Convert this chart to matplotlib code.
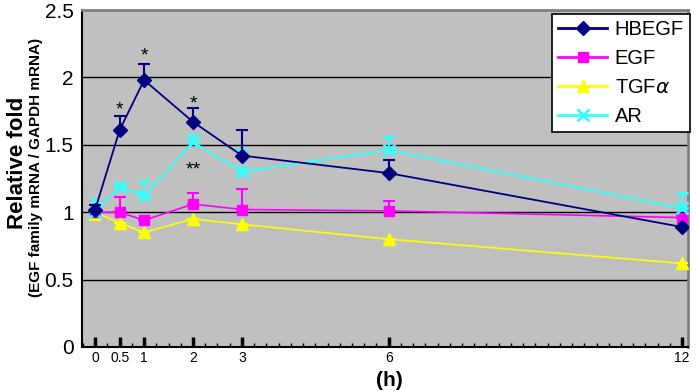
import numpy as np
import matplotlib
matplotlib.use('Agg')
import matplotlib.pyplot as plt
from matplotlib.lines import Line2D
from matplotlib.ticker import MultipleLocator, FixedLocator

plt.rcParams['font.family'] = ['Liberation Sans', 'DejaVu Sans']

hours = [0, 0.5, 1, 2, 3, 6, 12]

hbegf = [1.02, 1.61, 1.98, 1.67, 1.42, 1.29, 0.89]
hbegf_err = [0.03, 0.10, 0.12, 0.10, 0.19, 0.10, 0.0]

egf = [1.0, 1.0, 0.94, 1.06, 1.02, 1.01, 0.96]
egf_err = [0.02, 0.11, 0.01, 0.08, 0.15, 0.07, 0.02]

tgfa = [1.0, 0.92, 0.85, 0.95, 0.91, 0.80, 0.62]
tgfa_err_low = [0.06, 0, 0, 0, 0, 0, 0]

ar = [1.0, 1.19, 1.12, 1.52, 1.30, 1.46, 1.03]
ar_err = [0.10, 0.03, 0.11, 0.05, 0.17, 0.10, 0.11]

# significance marks: (hour, y, text)
stars = [(0.5, 1.76, '*'), (1, 2.16, '*'), (2, 1.80, '*'), (2, 1.31, '**')]

series = [
    ('HBEGF', '#000080', 'D', 7),
    ('EGF', '#ff00ff', 's', 7),
    ('TGF$\\alpha$', '#ffff00', '^', 8),
    ('AR', '#33ffff', 'x', 8),
]

fig = plt.figure(figsize=(6.96, 3.91), dpi=100)
ax = fig.add_axes([82 / 696, 1 - 347 / 391, 606 / 696, 337 / 391])
ax.set_facecolor('#c0c0c0')

zeros = [0] * len(hours)
eb = dict(capsize=4, elinewidth=1.5, capthick=1.5)

ax.errorbar(hours, tgfa, yerr=[tgfa_err_low, zeros], color='#ffff00', lw=1.2,
            marker='^', ms=8, zorder=3, **eb)
ax.errorbar(hours, egf, yerr=[zeros, egf_err], color='#ff00ff', lw=1.2,
            marker='s', ms=7, zorder=4, **eb)
ax.errorbar(hours, ar, yerr=[zeros, ar_err], color='#33ffff', lw=1.4,
            marker='x', ms=8, mew=2, zorder=5, **eb)
ax.errorbar(hours, hbegf, yerr=[zeros, hbegf_err], color='#000080', lw=1.3,
            marker='D', ms=7, zorder=6, **eb)

for hx, hy, txt in stars:
    ax.text(hx, hy, txt, ha='center', va='center', fontsize=14, color='black', zorder=7)

ax.set_xlim(-0.27, 12.12)
ax.set_ylim(0, 2.5)
ax.yaxis.set_major_locator(FixedLocator([0, 0.5, 1, 1.5, 2, 2.5]))
ax.set_yticklabels(['0', '0.5', '1', '1.5', '2', '2.5'])
ax.xaxis.set_major_locator(FixedLocator(hours))
ax.xaxis.set_minor_locator(MultipleLocator(0.25))
ax.set_xticklabels(['0', '0.5', '1', '2', '3', '6', '12'])
ax.tick_params(axis='y', length=0, labelsize=15, pad=6)
ax.tick_params(axis='x', which='major', direction='in', length=7, width=2.5, labelsize=10, pad=3)
ax.tick_params(axis='x', which='minor', direction='in', length=3, width=1)
ax.grid(axis='y', color='black', lw=1)
ax.set_axisbelow(True)

for side in ['left', 'bottom']:
    ax.spines[side].set_color('black')
    ax.spines[side].set_linewidth(1.5)
for side in ['top', 'right']:
    ax.spines[side].set_color('#808080')
    ax.spines[side].set_linewidth(2)

fig.text(18 / 696, 1 - 163 / 391, 'Relative fold', rotation=90, ha='center', va='center',
         fontsize=16, fontweight='bold')
fig.text(36 / 696, 1 - 167 / 391, '(EGF family mRNA / GAPDH mRNA)', rotation=90, ha='center',
         va='center', fontsize=11, fontweight='bold')
fig.text(389 / 696, 1 - 380 / 391, '(h)', ha='center', va='center', fontsize=15, fontweight='bold')

handles = []
labels = []
for name, col, mk, ms in series:
    handles.append(Line2D([], [], color=col, lw=2, marker=mk, ms=ms,
                          mew=2 if mk == 'x' else 1))
    labels.append(name)
leg = ax.legend(handles, labels,
                loc='upper right', bbox_to_anchor=(690 / 696, 1 - 14 / 391),
                bbox_transform=fig.transFigure, fontsize=14.5, frameon=True, fancybox=False,
                edgecolor='black', framealpha=1, handlelength=2.4, labelspacing=0.5,
                borderpad=0.3, handletextpad=0.4, borderaxespad=0)
leg.get_frame().set_linewidth(1.2)

fig.savefig('out.png', dpi=100)
